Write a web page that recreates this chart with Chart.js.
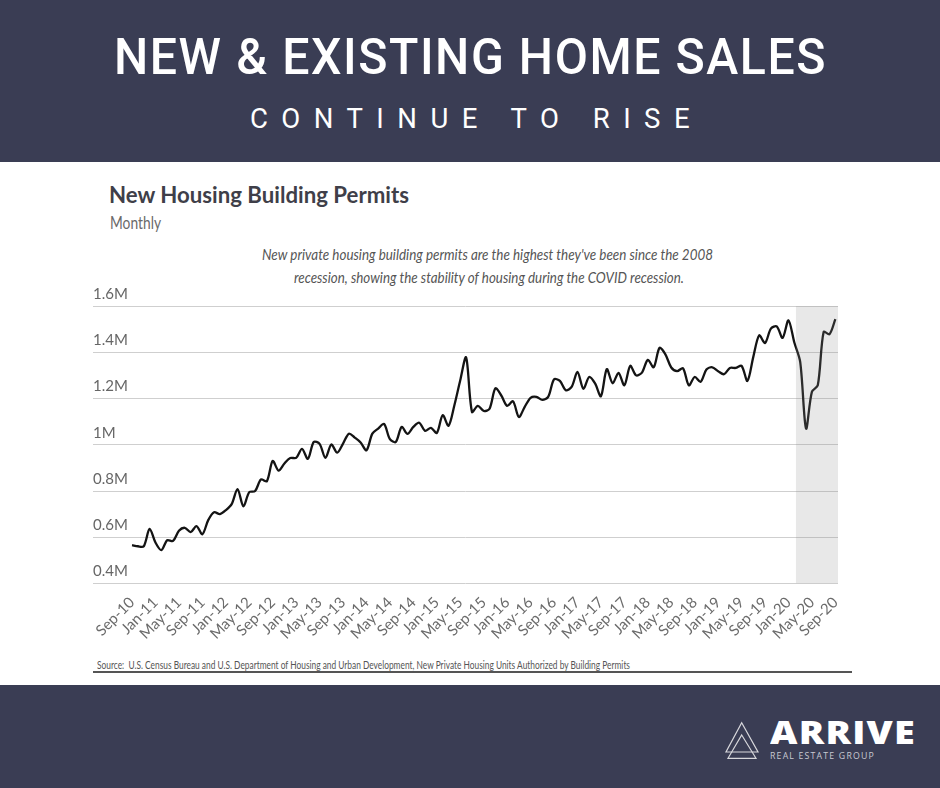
<!DOCTYPE html>
<html><head><meta charset="utf-8">
<style>
html,body{margin:0;padding:0;background:#fff;width:940px;height:788px;overflow:hidden}
#wrap{position:relative;width:940px;height:788px;font-family:Lato,"Open Sans",sans-serif}
.band{position:absolute;left:0;width:940px;background:#3a3d54}
.t{position:absolute;white-space:nowrap;transform-origin:left top}
canvas{position:absolute;left:0;top:0}
</style></head><body>
<div id="wrap">
<div class="band" style="top:0;height:162px"></div>
<div class="band" style="top:685px;height:103px"></div>
<div class="t" data-w="713" style="left:114px;top:28px;font:500 50px Roboto;color:#fff;letter-spacing:1.6px">NEW &amp; EXISTING HOME SALES</div>
<div class="t" data-w="453" style="left:250px;top:103px;font:400 27px Roboto;color:#fff;letter-spacing:13.2px">CONTINUE TO RISE</div>
<div class="t" data-w="300" style="left:109px;top:180px;font-weight:700;font-size:23px;color:#3f3f49">New Housing Building Permits</div>
<div class="t" data-w="51" style="left:110px;top:212px;font-size:17px;color:#6a6a6a">Monthly</div>
<div class="t" data-w="451" style="left:262px;top:244px;font-style:italic;font-size:16px;color:#555">New private housing building permits are the highest they've been since the 2008</div>
<div class="t" data-w="390" style="left:294px;top:267px;font-style:italic;font-size:16px;color:#555">recession, showing the stability of housing during the COVID recession.</div>
<div class="t" data-w="533" style="left:97px;top:658px;font-size:11px;color:#555">Source:&nbsp; U.S. Census Bureau and U.S. Department of Housing and Urban Development, New Private Housing Units Authorized by Building Permits</div>
<div style="position:absolute;left:93px;top:671px;width:759px;height:2px;background:#555"></div>
<svg style="position:absolute;left:720px;top:715px" width="45" height="50" fill="none" stroke="#d8d8dc" stroke-width="1.2">
<path d="M21.7 7.7 L38 37 L6 37 Z"/><path d="M21.7 20 L36 43.3 L8 43.3 Z"/>
</svg>
<div class="t" data-w="146" style="left:770px;top:711px;font:800 31px 'Open Sans';color:#fff;letter-spacing:1px">ARRIVE</div>
<div class="t" data-w="105" style="left:770px;top:749px;font:400 9.5px 'Open Sans';color:#c9cad2;letter-spacing:1.3px">REAL ESTATE GROUP</div>
<canvas id="c" width="940" height="788"></canvas>
</div>
<script src="https://cdn.jsdelivr.net/npm/chart.js@4"></script>
<script>
const tickLabels = ["Sep-10","Jan-11","May-11","Sep-11","Jan-12","May-12","Sep-12","Jan-13","May-13","Sep-13","Jan-14","May-14","Sep-14","Jan-15","May-15","Sep-15","Jan-16","May-16","Sep-16","Jan-17","May-17","Sep-17","Jan-18","May-18","Sep-18","Jan-19","May-19","Sep-19","Jan-20","May-20","Sep-20"];
const yTicks = [0.4,0.6,0.8,1.0,1.2,1.4,1.6];
const yLabels = ["0.4M","0.6M","0.8M","1M","1.2M","1.4M","1.6M"];
const permits = [
.566,.561,.561,.636,.577,.544,.587,.584,.628,.641,.622,.648,.613,.674,.708,.700,.717,.743,.808,.734,
.795,.800,.850,.842,.930,.888,.919,.943,.943,.982,.939,1.012,1.004,.943,1.001,.966,1.005,1.048,1.031,1.010,
.976,1.048,1.070,1.090,1.024,1.012,1.077,1.047,1.077,1.095,1.060,1.073,1.051,1.128,1.082,1.171,1.279,1.378,1.142,1.168,
1.146,1.156,1.244,1.213,1.168,1.188,1.120,1.164,1.203,1.207,1.194,1.207,1.283,1.276,1.236,1.250,1.315,1.242,1.293,1.265,
1.210,1.327,1.266,1.311,1.257,1.341,1.300,1.312,1.367,1.335,1.419,1.391,1.334,1.318,1.331,1.257,1.293,1.272,1.325,1.335,
1.318,1.305,1.332,1.332,1.341,1.276,1.380,1.473,1.440,1.502,1.512,1.462,1.538,1.442,1.358,1.070,1.229,1.257,1.488,1.478,
1.543];
const xRange = [-6.66, 120.45];
const recession = [113.26, 120.45];
const recessionTop = 1.6;

function fitTexts(){
  document.querySelectorAll('.t[data-w]').forEach(el => {
    const w = el.getBoundingClientRect().width;
    el.style.transform = 'scaleX(' + (parseFloat(el.dataset.w) / w) + ')';
  });
}
fitTexts();

new Chart(document.getElementById('c'), {
  type: 'line',
  data: { datasets: [
    { data: recession.map(x => ({x, y: recessionTop})), fill: 'start', backgroundColor: 'rgba(140,140,140,.2)',
      borderWidth: 0, pointRadius: 0, order: 0 },
    { data: permits.map((y, x) => ({x, y})), borderColor: '#141414', borderWidth: 2.3, pointRadius: 0,
      tension: 0.3, fill: false, order: 1 }
  ]},
  options: {
    responsive: false, animation: false,
    layout: { padding: { left: 93, right: 102, top: 306, bottom: 0 } },
    plugins: { legend: { display: false }, tooltip: { enabled: false } },
    scales: {
      x: { type: 'linear', min: xRange[0], max: xRange[1],
        grid: { display: false }, border: { display: false },
        afterBuildTicks: s => { s.ticks = tickLabels.map((_, k) => ({ value: k * 4 })); },
        afterFit: s => { s.height = 788 - 583.5; s.paddingLeft = 0; s.paddingRight = 0; },
        ticks: { autoSkip: false, maxRotation: 45, minRotation: 45, padding: 2, color: '#6b6b6b',
          font: { family: 'Lato', size: 15 },
          callback: v => tickLabels[v / 4] } },
      y: { min: 0.4, max: 1.6, position: 'left',
        grid: { color: '#cfcfcf', lineWidth: 1, drawTicks: false }, border: { display: false },
        afterBuildTicks: s => { s.ticks = yTicks.map(value => ({ value })); },
        afterFit: s => { s.width = 0; },
        ticks: { autoSkip: false, mirror: true, padding: 0, color: '#666',
          font: { family: 'Lato', size: 15, lineHeight: 1.6 },
          callback: (v, i) => [yLabels[i], ''] } }
    }
  }
});
</script>
</body></html>
